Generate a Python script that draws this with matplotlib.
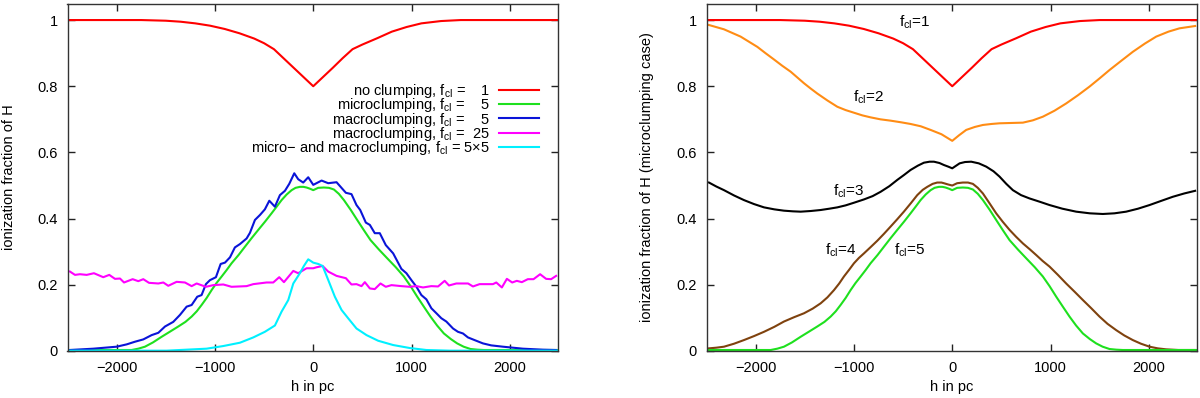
import matplotlib
matplotlib.use("Agg")
import matplotlib.pyplot as plt
from matplotlib.lines import Line2D

plt.rcParams["font.family"] = ["Liberation Sans", "DejaVu Sans"]
plt.rcParams["mathtext.fontset"] = "custom"
plt.rcParams["mathtext.rm"] = "Liberation Sans"
plt.rcParams["mathtext.it"] = "Liberation Sans:italic"
plt.rcParams["font.size"] = 10.5

# no clumping, f_cl = 1 (same in both panels)
red_x = [-2500, -1750, -1500, -1350, -1200, -1050, -900, -750, -600, -500,
         -400, -300, -200, -100, 0, 100, 200, 300, 400, 500,
         650, 800, 950, 1100, 1300, 1500, 2500]
red_y = [1.0, 1.0, 0.998, 0.995, 0.990, 0.983, 0.973, 0.960, 0.944, 0.930,
         0.912, 0.884, 0.856, 0.828, 0.800, 0.828, 0.856, 0.885, 0.912, 0.926,
         0.945, 0.965, 0.979, 0.990, 0.997, 1.0, 1.0]

# microclumping f_cl = 5 (green, both panels)
green_x = [-2500, -1847, -1780, -1712, -1630, -1542, -1460, -1373, -1300, -1237,
           -1185, -1136, -1085, -1034, -985, -932, -880, -831, -760, -695,
           -627, -559, -490, -424, -370, -322, -270, -220, -180, -136,
           -100, -68, -30, 0, 50, 108, 160, 210, 260, 312,
           380, 447, 515, 583, 670, 753, 840, 922, 990, 1058,
           1125, 1193, 1260, 1329, 1400, 1464, 1530, 1600, 1670, 1736,
           2500]
green_y = [0.003, 0.003, 0.007, 0.013, 0.026, 0.043, 0.058, 0.074, 0.088, 0.104,
           0.120, 0.139, 0.160, 0.184, 0.205, 0.225, 0.245, 0.265, 0.290, 0.315,
           0.341, 0.366, 0.391, 0.416, 0.437, 0.456, 0.473, 0.486, 0.493, 0.496,
           0.496, 0.494, 0.490, 0.486, 0.493, 0.494, 0.493, 0.488, 0.475, 0.456,
           0.427, 0.396, 0.365, 0.335, 0.306, 0.280, 0.253, 0.225, 0.196, 0.164,
           0.134, 0.104, 0.077, 0.053, 0.036, 0.023, 0.013, 0.006, 0.004, 0.003,
           0.003]

# macroclumping f_cl = 5 (blue)
blue_x = [-2475, -2237, -2000, -1898, -1814, -1729, -1644, -1576, -1508, -1424,
          -1356, -1288, -1237, -1180, -1136, -1092, -1051, -990, -942, -898,
          -847, -797, -746, -678, -644, -593, -542, -492, -447, -390,
          -339, -288, -244, -193, -153, -102, -51, 0, 85, 152,
          237, 332, 389, 440, 478, 535, 576, 626, 677, 738,
          813, 863, 897, 948, 999, 1050, 1100, 1151, 1202, 1253,
          1303, 1354, 1422, 1472, 1523, 1574, 1641, 1726, 1810, 1929,
          1997, 2132, 2335, 2471]
blue_y = [0.003, 0.007, 0.013, 0.020, 0.028, 0.035, 0.048, 0.055, 0.074, 0.088,
          0.109, 0.134, 0.139, 0.164, 0.169, 0.202, 0.214, 0.223, 0.263, 0.267,
          0.283, 0.313, 0.323, 0.340, 0.357, 0.396, 0.411, 0.428, 0.454, 0.436,
          0.471, 0.484, 0.505, 0.537, 0.519, 0.509, 0.525, 0.502, 0.515, 0.507,
          0.510, 0.478, 0.474, 0.441, 0.426, 0.388, 0.381, 0.356, 0.356, 0.320,
          0.295, 0.267, 0.248, 0.235, 0.214, 0.194, 0.169, 0.156, 0.129, 0.114,
          0.099, 0.089, 0.068, 0.058, 0.053, 0.041, 0.033, 0.023, 0.017, 0.013,
          0.011, 0.007, 0.004, 0.003]

# macroclumping f_cl = 25 (magenta)
mag_x = [-2475, -2424, -2373, -2305, -2231, -2136, -2075, -2017, -1966, -1925,
         -1837, -1780, -1729, -1671, -1576, -1525, -1475, -1390, -1305, -1237,
         -1186, -1092, -1017, -915, -831, -678, -610, -475, -407, -346,
         -298, -203, -153, -68, 0, 34, 95, 152, 237, 332,
         389, 440, 491, 525, 576, 626, 684, 738, 796, 897,
         982, 1050, 1117, 1201, 1270, 1337, 1381, 1456, 1575, 1625,
         1692, 1828, 1862, 1919, 1970, 2024, 2071, 2122, 2183, 2241,
         2308, 2369, 2420, 2471]
mag_y = [0.240, 0.230, 0.232, 0.230, 0.235, 0.223, 0.230, 0.218, 0.219, 0.207,
         0.217, 0.211, 0.217, 0.206, 0.204, 0.207, 0.197, 0.209, 0.207, 0.196,
         0.204, 0.194, 0.199, 0.201, 0.194, 0.196, 0.202, 0.207, 0.207, 0.223,
         0.208, 0.242, 0.235, 0.250, 0.250, 0.253, 0.257, 0.240, 0.227, 0.220,
         0.201, 0.202, 0.196, 0.208, 0.189, 0.187, 0.204, 0.194, 0.199, 0.196,
         0.194, 0.196, 0.192, 0.196, 0.195, 0.212, 0.198, 0.204, 0.204, 0.195,
         0.202, 0.202, 0.207, 0.192, 0.218, 0.207, 0.212, 0.208, 0.217, 0.217,
         0.232, 0.218, 0.217, 0.227]

# micro- and macroclumping f_cl = 5x5 (cyan)
cyan_x = [-2500, -1492, -1085, -915, -746, -610, -492, -390, -322, -254,
          -203, -136, -95, -51, 0, 51, 95, 152, 220, 288,
          355, 440, 542, 660, 813, 982, 1151, 1388, 2500]
cyan_y = [0.001, 0.001, 0.007, 0.015, 0.025, 0.041, 0.058, 0.077, 0.119, 0.154,
          0.204, 0.235, 0.257, 0.277, 0.267, 0.263, 0.257, 0.215, 0.164, 0.124,
          0.099, 0.068, 0.048, 0.031, 0.018, 0.009, 0.003, 0.001, 0.001]

# microclumping case, f_cl = 2 (orange)
orange_x = [-2475, -2322, -2153, -1983, -1900, -1814, -1730, -1644, -1508, -1440,
            -1373, -1270, -1169, -1085, -1000, -915, -831, -730, -627, -520,
            -424, -320, -220, -110, 0, 70, 142, 230, 312, 400,
            481, 600, 719, 820, 922, 1040, 1159, 1280, 1397, 1500,
            1600, 1720, 1837, 1960, 2075, 2200, 2312, 2471]
orange_y = [0.985, 0.972, 0.950, 0.919, 0.900, 0.881, 0.862, 0.844, 0.809, 0.793,
            0.778, 0.757, 0.738, 0.728, 0.720, 0.712, 0.706, 0.700, 0.696, 0.691,
            0.686, 0.679, 0.668, 0.655, 0.635, 0.652, 0.668, 0.677, 0.683, 0.686,
            0.688, 0.689, 0.690, 0.697, 0.708, 0.726, 0.748, 0.773, 0.799, 0.824,
            0.849, 0.877, 0.904, 0.929, 0.950, 0.965, 0.975, 0.982]

# f_cl = 3 (black)
black_x = [-2475, -2400, -2322, -2220, -2119, -2017, -1915, -1810, -1712, -1620,
           -1542, -1440, -1339, -1250, -1169, -1085, -1000, -898, -810, -729,
           -640, -559, -490, -424, -350, -288, -230, -186, -130, -85,
           -40, 0, 40, 75, 130, 193, 270, 346, 420, 481,
           550, 617, 700, 786, 890, 990, 1120, 1261, 1400, 1532,
           1650, 1769, 1890, 2007, 2120, 2244, 2360, 2471]
black_y = [0.509, 0.497, 0.486, 0.470, 0.456, 0.444, 0.434, 0.428, 0.424, 0.422,
           0.421, 0.423, 0.426, 0.430, 0.434, 0.440, 0.448, 0.458, 0.468, 0.481,
           0.498, 0.517, 0.532, 0.547, 0.560, 0.569, 0.572, 0.572, 0.568, 0.562,
           0.557, 0.552, 0.560, 0.567, 0.571, 0.572, 0.567, 0.557, 0.543, 0.527,
           0.505, 0.486, 0.471, 0.461, 0.451, 0.441, 0.430, 0.421, 0.416, 0.414,
           0.416, 0.421, 0.430, 0.441, 0.453, 0.466, 0.476, 0.484]

# f_cl = 4 (brown)
brown_x = [-2475, -2400, -2322, -2220, -2119, -2017, -1915, -1810, -1712, -1610,
           -1508, -1420, -1339, -1270, -1203, -1150, -1102, -1050, -1000, -950,
           -898, -830, -763, -695, -627, -560, -492, -420, -356, -300,
           -254, -200, -153, -110, -85, -40, 0, 50, 108, 160,
           210, 260, 312, 380, 447, 515, 583, 650, 719, 790,
           854, 920, 990, 1075, 1159, 1245, 1329, 1415, 1498, 1580,
           1668, 1750, 1837, 1920, 2007, 2090, 2176, 2300, 2471]
brown_y = [0.008, 0.010, 0.013, 0.022, 0.033, 0.045, 0.058, 0.073, 0.089, 0.102,
           0.114, 0.128, 0.144, 0.162, 0.184, 0.204, 0.225, 0.245, 0.265, 0.281,
           0.295, 0.314, 0.333, 0.354, 0.376, 0.398, 0.421, 0.447, 0.471, 0.487,
           0.496, 0.505, 0.509, 0.509, 0.507, 0.503, 0.500, 0.507, 0.509, 0.509,
           0.505, 0.493, 0.476, 0.446, 0.416, 0.390, 0.366, 0.345, 0.325, 0.307,
           0.290, 0.272, 0.255, 0.230, 0.204, 0.179, 0.154, 0.129, 0.104, 0.082,
           0.063, 0.047, 0.033, 0.022, 0.013, 0.008, 0.005, 0.003, 0.003]

left_labels = ["no clumping, f$_{\\mathrm{cl}}$ =    1",
               "microclumping, f$_{\\mathrm{cl}}$ =    5",
               "macroclumping, f$_{\\mathrm{cl}}$ =    5",
               "macroclumping, f$_{\\mathrm{cl}}$ =  25",
               "micro\u2212 and macroclumping, f$_{\\mathrm{cl}}$ = 5\u00d75"]

RED = "#ff0000"
GREEN = "#1ee01e"
BLUE = "#0a14d8"
MAGENTA = "#ff00ff"
CYAN = "#00f0ff"
ORANGE = "#ff8c14"
BROWN = "#7f420e"
LW = 1.5

fig = plt.figure(figsize=(12, 3.98), dpi=100)
ax1 = fig.add_axes([0.05625, 0.1181, 0.40875, 0.8731])
ax2 = fig.add_axes([0.58875, 0.1181, 0.40875, 0.8731])

ax1.plot(red_x, red_y, color=RED, lw=LW)
ax1.plot(green_x, green_y, color=GREEN, lw=LW)
ax1.plot(blue_x, blue_y, color=BLUE, lw=LW)
ax1.plot(mag_x, mag_y, color=MAGENTA, lw=LW)
ax1.plot(cyan_x, cyan_y, color=CYAN, lw=LW)

handles = [Line2D([], [], color=c, lw=LW) for c in [RED, GREEN, BLUE, MAGENTA, CYAN]]
ax1.legend(handles, left_labels, loc="center right", bbox_to_anchor=(0.961, 0.666),
           frameon=False, markerfirst=False, handlelength=2.75, handletextpad=0.6,
           borderpad=0, borderaxespad=0, labelspacing=-0.25, fontsize=10.5)

ax2.plot(red_x, red_y, color=RED, lw=LW)
ax2.plot(orange_x, orange_y, color=ORANGE, lw=LW)
ax2.plot(black_x, black_y, color="black", lw=LW)
ax2.plot(brown_x, brown_y, color=BROWN, lw=LW)
ax2.plot(green_x, green_y, color=GREEN, lw=LW)

ax2.text(-542, 0.98, "f$_{\\mathrm{cl}}$=1", fontsize=11)
ax2.text(-1007, 0.753, "f$_{\\mathrm{cl}}$=2", fontsize=11)
ax2.text(-1210, 0.471, "f$_{\\mathrm{cl}}$=3", fontsize=11)
ax2.text(-1298, 0.29, "f$_{\\mathrm{cl}}$=4", fontsize=11)
ax2.text(-593, 0.29, "f$_{\\mathrm{cl}}$=5", fontsize=11)

for ax in (ax1, ax2):
    ax.set_xlim(-2500, 2490)
    ax.set_ylim(0, 1.05)
    ax.set_xticks([-2000, -1000, 0, 1000, 2000])
    ax.set_yticks([0, 0.2, 0.4, 0.6, 0.8, 1.0])
    ax.set_yticklabels(["0", "0.2", "0.4", "0.6", "0.8", "1"])
    ax.tick_params(direction="in", top=True, right=True, length=5, width=1,
                   labelsize=10.5, pad=7, colors="#222222", labelcolor="black")
    for s in ax.spines.values():
        s.set_linewidth(1)
        s.set_color("#333333")
    ax.set_xlabel("h in pc", fontsize=10.5)
    ax.xaxis.set_label_coords(0.5, -0.083)

ax1.set_ylabel("ionization fraction of H", fontsize=10.5)
ax1.yaxis.set_label_coords(-0.105, 0.5)
ax2.set_ylabel("ionization fraction of H (microclumping case)", fontsize=10.5)
ax2.yaxis.set_label_coords(-0.107, 0.5)

fig.savefig("out.png", dpi=100)
